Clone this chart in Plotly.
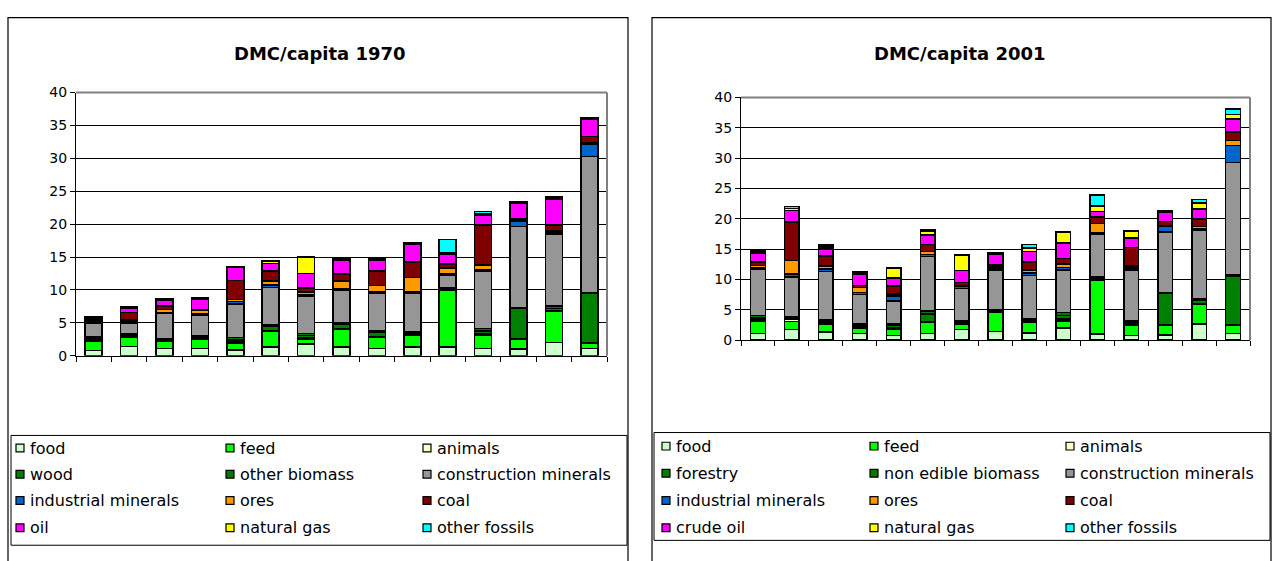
import plotly.graph_objects as go

# Material categories, stacked bottom to top
series_1970 = ["food", "feed", "animals", "wood", "other biomass", "construction minerals",
               "industrial minerals", "ores", "coal", "oil", "natural gas", "other fossils"]
series_2001 = ["food", "feed", "animals", "forestry", "non edible biomass", "construction minerals",
               "industrial minerals", "ores", "coal", "crude oil", "natural gas", "other fossils"]
series_colors = ["#CCFFCC", "#00FF00", "#FFFFCC", "#008000", "#007A00", "#969696",
                 "#0066CC", "#FF9900", "#800000", "#FF00FF", "#FFFF00", "#00FFFF"]

# Country positions (15 countries, sorted by 1970 total)
countries = list(range(15))

# DMC per capita 1970 (t/cap)
food_1970 = [0.8, 1.4, 1.1, 1.1, 0.85, 1.3, 1.8, 1.3, 1.1, 1.3, 1.3, 1.1, 1.0, 2.05, 1.1]
feed_1970 = [1.4, 1.45, 1.15, 1.45, 1.1, 2.45, 0.75, 2.7, 1.65, 1.85, 8.65, 2.05, 1.55, 4.65, 0.85]
animals_1970 = [0.2, 0.15, 0.15, 0.15, 0.3, 0.1, 0.25, 0.1, 0.2, 0.15, 0.1, 0.2, 0.1, 0.15, 0.1]
wood_1970 = [0.3, 0.2, 0.15, 0.15, 0.25, 0.7, 0.3, 0.7, 0.6, 0.15, 0.1, 0.4, 4.6, 0.35, 7.5]
other_biomass_1970 = [0.2, 0.15, 0.1, 0.15, 0.25, 0.15, 0.25, 0.2, 0.2, 0.15, 0.15, 0.4, 0.1, 0.35, 0.1]
construction_1970 = [2.0, 1.55, 3.75, 3.1, 5.1, 5.7, 5.7, 4.95, 5.8, 5.95, 1.95, 8.7, 12.3, 10.85, 20.65]
industrial_1970 = [0.15, 0.2, 0.2, 0.25, 0.4, 0.35, 0.2, 0.2, 0.2, 0.15, 0.25, 0.15, 0.85, 0.25, 1.8]
ores_1970 = [0.15, 0.3, 0.4, 0.5, 0.3, 0.6, 0.45, 1.2, 0.9, 2.2, 0.8, 0.8, 0.15, 0.3, 0.2]
coal_1970 = [0.2, 1.2, 0.6, 0.2, 2.9, 1.5, 0.6, 1.1, 2.2, 2.35, 0.65, 6.1, 0.2, 0.95, 1.0]
oil_1970 = [0.2, 0.6, 0.8, 1.6, 1.95, 1.2, 2.2, 2.05, 1.7, 2.7, 1.45, 1.5, 2.3, 3.9, 2.6]
gas_1970 = [0.15, 0.1, 0.1, 0.1, 0.1, 0.25, 2.45, 0.1, 0.2, 0.1, 0.2, 0.15, 0.1, 0.2, 0.15]
other_fossils_1970 = [0.15, 0.1, 0.1, 0.05, 0.05, 0.1, 0.1, 0.1, 0.2, 0.15, 2.1, 0.35, 0.1, 0.2, 0.15]

# DMC per capita 2001 (t/cap)
food_2001 = [1.1, 1.8, 1.35, 1.1, 0.75, 1.1, 1.75, 1.45, 1.2, 2.0, 1.05, 0.8, 0.85, 2.7, 1.1]
feed_2001 = [2.0, 1.3, 1.35, 0.9, 1.05, 1.9, 0.9, 3.2, 1.75, 1.2, 8.85, 1.7, 1.6, 3.2, 1.35]
animals_2001 = [0.2, 0.3, 0.2, 0.25, 0.25, 0.1, 0.2, 0.15, 0.2, 0.3, 0.15, 0.2, 0.1, 0.15, 0.15]
forestry_2001 = [0.4, 0.3, 0.3, 0.2, 0.4, 1.25, 0.2, 0.15, 0.25, 0.6, 0.2, 0.3, 5.25, 0.6, 8.0]
non_edible_2001 = [0.35, 0.25, 0.25, 0.25, 0.25, 0.45, 0.15, 0.1, 0.2, 0.45, 0.2, 0.2, 0.1, 0.25, 0.15]
construction_2001 = [7.7, 6.5, 7.9, 4.85, 3.8, 9.0, 5.35, 6.55, 7.1, 7.05, 6.95, 8.4, 9.95, 11.15, 18.55]
industrial_2001 = [0.2, 0.45, 0.35, 0.35, 0.8, 0.35, 0.3, 0.2, 0.35, 0.4, 0.3, 0.3, 0.85, 0.3, 2.8]
ores_2001 = [0.4, 2.2, 0.5, 0.8, 0.3, 0.45, 0.2, 0.25, 0.55, 0.55, 1.55, 0.3, 0.2, 0.4, 0.8]
coal_2001 = [0.5, 6.4, 1.65, 0.35, 1.3, 1.2, 0.5, 0.35, 1.25, 0.95, 1.05, 3.05, 0.65, 1.2, 1.4]
crude_oil_2001 = [1.45, 1.85, 1.15, 1.75, 1.35, 1.5, 1.95, 1.8, 1.75, 2.5, 0.9, 1.55, 1.5, 1.7, 2.1]
gas_2001 = [0.25, 0.35, 0.35, 0.3, 1.65, 0.7, 2.45, 0.15, 0.6, 1.8, 0.9, 1.1, 0.2, 0.95, 0.8]
other_fossils_2001 = [0.2, 0.3, 0.35, 0.25, 0.1, 0.15, 0.1, 0.1, 0.55, 0.1, 1.85, 0.1, 0.15, 0.55, 0.9]

values_1970 = [food_1970, feed_1970, animals_1970, wood_1970, other_biomass_1970, construction_1970,
               industrial_1970, ores_1970, coal_1970, oil_1970, gas_1970, other_fossils_1970]
values_2001 = [food_2001, feed_2001, animals_2001, forestry_2001, non_edible_2001, construction_2001,
               industrial_2001, ores_2001, coal_2001, crude_oil_2001, gas_2001, other_fossils_2001]

W, H = 1277, 561
FONT = "DejaVu Sans, Arial, sans-serif"


def px(x):
    return x / W


def py(y):
    return 1 - y / H


fig = go.Figure()

for names, values, xa, ya, bw in [
    (series_1970, values_1970, "x", "y", 0.48),
    (series_2001, values_2001, "x2", "y2", 0.43),
]:
    for name, vals, color in zip(names, values, series_colors):
        fig.add_trace(go.Bar(
            x=countries, y=vals, name=name, width=bw,
            marker=dict(color=color, line=dict(color="black", width=1.5)),
            xaxis=xa, yaxis=ya, showlegend=False,
        ))

boundaries = [i - 0.5 for i in range(16)]
xcommon = dict(range=[-0.5, 14.5], showgrid=False, zeroline=False, tickvals=boundaries,
               ticks="outside", ticklen=5, tickcolor="black", showticklabels=False,
               showline=True, linecolor="black", linewidth=1, fixedrange=True)
ycommon = dict(range=[0, 40], dtick=5, showgrid=True, gridcolor="black", gridwidth=1,
               zeroline=False, showline=True, linecolor="black", linewidth=1,
               ticks="outside", ticklen=5, tickcolor="black",
               tickfont=dict(family=FONT, size=14, color="black"))

# plot areas (pixel boxes)
left_box = (76, 87, 607, 358)
right_box = (741, 92, 1250, 342)

fig.update_layout(
    width=W, height=H, margin=dict(l=0, r=0, t=0, b=0),
    paper_bgcolor="white", plot_bgcolor="white",
    barmode="stack", showlegend=False,
    font=dict(family=FONT, color="black"),
    xaxis=dict(domain=[px(left_box[0]), px(left_box[2])], anchor="y", **xcommon),
    yaxis=dict(domain=[py(left_box[3]), py(left_box[1])], anchor="x", **ycommon),
    xaxis2=dict(domain=[px(right_box[0]), px(right_box[2])], anchor="y2", **xcommon),
    yaxis2=dict(domain=[py(right_box[3]), py(right_box[1])], anchor="x2", **ycommon),
)

shapes = []
annotations = []

# plot-area frame (top and right edges in grey)
for (x0, y0, x1, y1) in [left_box, right_box]:
    shapes.append(dict(type="line", xref="paper", yref="paper", x0=px(x0), x1=px(x1),
                       y0=py(y0), y1=py(y0), line=dict(color="#808080", width=2)))
    shapes.append(dict(type="line", xref="paper", yref="paper", x0=px(x1), x1=px(x1),
                       y0=py(y0), y1=py(y1), line=dict(color="#808080", width=2)))

# chart panel borders
for (x0, x1) in [(8, 628), (652, 1271)]:
    shapes.append(dict(type="rect", xref="paper", yref="paper", x0=px(x0), x1=px(x1),
                       y0=py(H + 20), y1=py(10), line=dict(color="black", width=1.2),
                       fillcolor="rgba(0,0,0,0)", layer="below"))

# titles
for text, cx in [("DMC/capita 1970", 320), ("DMC/capita 2001", 960)]:
    annotations.append(dict(text="<b>%s</b>" % text, xref="paper", yref="paper", x=px(cx), y=py(47),
                            xanchor="center", yanchor="middle", showarrow=False,
                            font=dict(family=FONT, size=18, color="black")))

# legends: 3 columns x 4 rows inside a framed box
legend_specs = [
    (series_1970, (11, 440, 627, 553), [30, 240, 437], [453, 480, 507, 535]),
    (series_2001, (654, 437, 1270, 548), [676, 884, 1080], [451, 479, 507, 535]),
]
for names, box, cols, rows in legend_specs:
    shapes.append(dict(type="rect", xref="paper", yref="paper", x0=px(box[0]), x1=px(box[2]),
                       y0=py(box[3]), y1=py(box[1]), line=dict(color="black", width=1),
                       fillcolor="white"))
    for i, (name, color) in enumerate(zip(names, series_colors)):
        tx, ty = cols[i % 3], rows[i // 3]
        shapes.append(dict(type="rect", xref="paper", yref="paper",
                           x0=px(tx - 14), x1=px(tx - 6), y0=py(ty + 4), y1=py(ty - 4),
                           fillcolor=color, line=dict(color="black", width=1.2)))
        annotations.append(dict(text=name, xref="paper", yref="paper", x=px(tx - 2), y=py(ty),
                                xanchor="left", yanchor="middle", showarrow=False,
                                font=dict(family=FONT, size=16, color="black")))

fig.update_layout(shapes=shapes, annotations=annotations)

fig.write_html("out.html")
